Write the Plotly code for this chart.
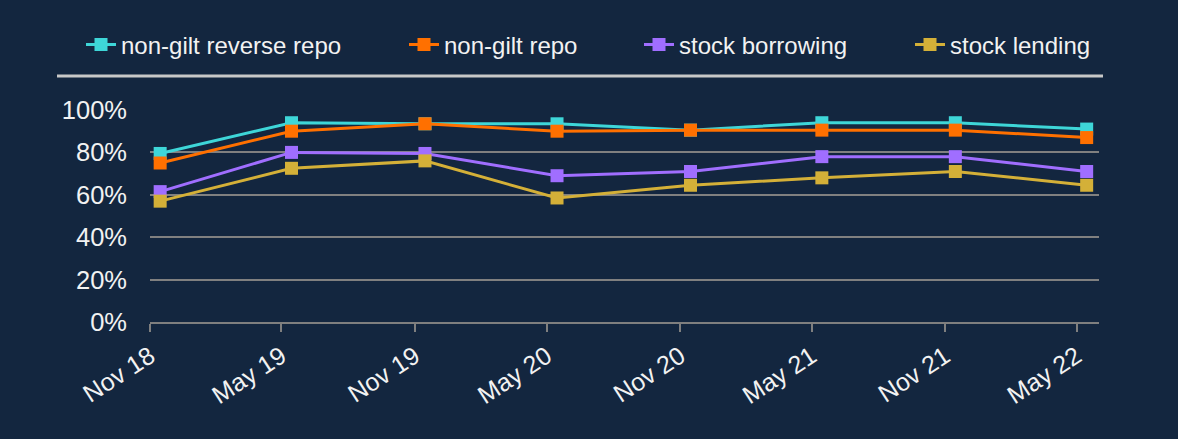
import plotly.graph_objects as go

# Survey dates (points sit mid-month); tick labels are the month starts
dates = ["2018-11-15", "2019-05-15", "2019-11-15", "2020-05-15",
         "2020-11-15", "2021-05-15", "2021-11-15", "2022-05-15"]
tick_dates = ["2018-11-01", "2019-05-01", "2019-11-01", "2020-05-01",
              "2020-11-01", "2021-05-01", "2021-11-01", "2022-05-01"]
tick_labels = ["Nov 18", "May 19", "Nov 19", "May 20",
               "Nov 20", "May 21", "Nov 21", "May 22"]

non_gilt_reverse_repo = [79.5, 94, 93.5, 93.5, 90.5, 94, 94, 91]
non_gilt_repo = [75, 90, 93.5, 90, 90.5, 90.5, 90.5, 87]
stock_borrowing = [61.5, 80, 79.5, 69, 71, 78, 78, 71]
stock_lending = [57, 72.5, 76, 58.5, 64.5, 68, 71, 64.5]

series = [
    ("non-gilt reverse repo", non_gilt_reverse_repo, "#3ed6d8"),
    ("non-gilt repo", non_gilt_repo, "#ff7000"),
    ("stock borrowing", stock_borrowing, "#a06eff"),
    ("stock lending", stock_lending, "#d4b038"),
]
legend_x_px = [81, 404, 639, 910]

BG = "#13263f"
FONT = "Liberation Sans, Arial, sans-serif"
W, H = 1178, 439

fig = go.Figure()
legend_layout = {}
for i, (name, vals, col) in enumerate(series):
    lname = "legend" if i == 0 else f"legend{i + 1}"
    fig.add_trace(go.Scatter(
        x=dates, y=vals, name=name, mode="lines+markers",
        line=dict(color=col, width=3),
        marker=dict(symbol="square", size=13, color=col,
                    line=dict(width=0)),
        legend=lname,
    ))
    legend_layout[lname] = dict(
        orientation="h", xref="container", yref="container",
        x=legend_x_px[i] / W, y=1 - 45 / H,
        xanchor="left", yanchor="middle",
        font=dict(size=24, color="#f2f2f2", family=FONT),
        bgcolor="rgba(0,0,0,0)",
    )

fig.update_layout(
    width=W, height=H,
    paper_bgcolor=BG, plot_bgcolor=BG,
    margin=dict(l=150, r=79, t=110, b=117),
    font=dict(family=FONT, color="#f2f2f2", size=24),
    showlegend=True,
    xaxis=dict(
        type="date", range=["2018-11-01", "2022-06-01"],
        tickvals=tick_dates, ticktext=tick_labels, tickangle=-33,
        showgrid=False, showline=True, linecolor="#7f7f7f", linewidth=2,
        ticks="outside", ticklen=8, tickwidth=1.5, tickcolor="#7f7f7f",
        tickfont=dict(size=25, color="#f2f2f2"),
        zeroline=False,
    ),
    yaxis=dict(
        range=[0, 100], tickvals=[0, 20, 40, 60, 80, 100],
        ticktext=["0%", "20%", "40%", "60%", "80%", "100%"],
        showgrid=True, gridcolor="#808080", gridwidth=1.5,
        showline=False, zeroline=False, ticks="",
        ticklabelstandoff=22,
        tickfont=dict(size=25.5, color="#f2f2f2"),
    ),
    shapes=[dict(
        type="line", xref="paper", yref="paper",
        x0=(57 - 150) / 949, x1=(1103 - 150) / 949,
        y0=(322 - 76) / 212, y1=(322 - 76) / 212,
        line=dict(color="#c8c8c8", width=3),
    )],
    **legend_layout,
)

fig.write_html("out.html",
               config={"displayModeBar": False},
               post_script="document.body.style.margin='0';")
